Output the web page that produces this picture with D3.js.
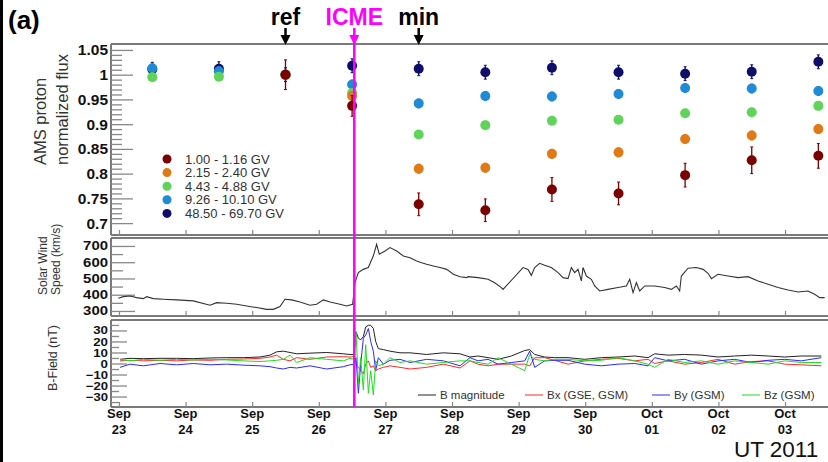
<!DOCTYPE html>
<html><head><meta charset="utf-8">
<script src="https://cdn.jsdelivr.net/npm/d3@7"></script>
<style>
body{margin:0;background:#fff;}
svg{display:block;}
text{font-family:"Liberation Sans",Arial,Helvetica,sans-serif;}
</style></head>
<body><svg id="chart" width="828" height="462"></svg>
<script>
// ---------------- DATA ----------------
const fluxDays = ["2011-09-23T12:00Z","2011-09-24T12:00Z","2011-09-25T12:00Z","2011-09-26T12:00Z","2011-09-27T12:00Z","2011-09-28T12:00Z","2011-09-29T12:00Z","2011-09-30T12:00Z","2011-10-01T12:00Z","2011-10-02T12:00Z","2011-10-03T12:00Z"];
const binLabels = ["1.00 - 1.16 GV","2.15 - 2.40 GV","4.43 - 4.88 GV","9.26 - 10.10 GV","48.50 - 69.70 GV"];
const flux_1_00  = [null, null, 1.000, 0.937, 0.738, 0.726, 0.768, 0.760, 0.797, 0.827, 0.836];
const flux_2_15  = [null, null, 1.000, 0.957, 0.810, 0.812, 0.840, 0.843, 0.870, 0.877, 0.890];
const flux_4_43  = [0.995, 0.996, 1.000, 0.963, 0.879, 0.898, 0.907, 0.909, 0.922, 0.924, 0.937];
const flux_9_26  = [1.013, 1.007, 1.000, 0.980, 0.942, 0.957, 0.956, 0.961, 0.973, 0.972, 0.967];
const flux_48_50 = [1.011, 1.012, 1.000, 1.018, 1.012, 1.005, 1.014, 1.005, 1.002, 1.006, 1.026];
const err_1_00  = [null, null, 0.030, 0.021, 0.023, 0.023, 0.024, 0.023, 0.024, 0.027, 0.025];
const err_2_15  = [null, null, 0.009, 0.009, 0.009, 0.009, 0.009, 0.009, 0.009, 0.009, 0.009];
const err_4_43  = [0.008, 0.008, 0.008, 0.008, 0.008, 0.008, 0.008, 0.008, 0.008, 0.008, 0.008];
const err_9_26  = [0.009, 0.009, 0.009, 0.009, 0.009, 0.009, 0.009, 0.009, 0.009, 0.009, 0.009];
const err_48_50 = [0.014, 0.014, 0.014, 0.014, 0.014, 0.014, 0.014, 0.014, 0.014, 0.014, 0.014];

const eventLabels = ["ref","ICME","min"];
const eventTimes  = ["2011-09-25T12:00Z","2011-09-26T12:47Z","2011-09-27T12:00Z"];

// solar wind speed: time in days since 2011-09-23 00:00 UT, speed in km/s
const swDays = [-0.010,0.065,0.165,0.265,0.365,0.415,0.515,0.666,0.866,1.116,1.366,1.466,1.617,1.767,1.917,2.067,2.217,2.317,2.417,2.492,2.592,2.718,2.868,2.968,3.068,3.168,3.318,3.418,3.508,3.543,3.593,3.668,3.743,3.818,3.868,3.908,3.994,4.069,4.169,4.269,4.369,4.469,4.544,4.619,4.719,4.820,4.920,5.020,5.120,5.220,5.240,
  5.390,5.541,5.641,5.741,5.766,6.066,6.141,6.191,6.241,6.316,6.391,6.491,6.592,6.667,6.742,6.792,6.842,6.892,6.942,6.967,7.017,7.092,7.142,7.217,7.342,7.492,7.618,7.668,7.718,7.768,7.818,7.893,8.043,8.193,8.293,8.368,8.418,8.443,8.544,8.669,8.769,8.844,8.894,8.994,9.144,9.294,9.444,9.595,9.745,9.895,10.045,10.195,10.345,10.445,10.520,10.595];
const swSpeed = [378,388,392,382,376,388,376,372,368,362,335,351,347,341,331,321,310,310,327,372,368,355,335,341,368,355,341,331,341,474,536,556,567,638,710,649,669,690,669,638,628,608,597,587,577,567,556,526,511,505,511,
  505,495,474,444,433,567,556,519,567,593,581,567,536,505,499,567,536,556,485,567,515,495,454,423,433,444,454,495,413,474,423,454,454,444,433,454,423,515,563,567,556,532,499,526,515,505,511,485,464,444,429,417,423,403,382,382];

// magnetic field (nT), time in days since 2011-09-23 00:00 UT
const bDays = [0.015,0.165,0.365,0.616,0.866,1.116,1.366,1.617,1.867,2.117,2.267,2.367,2.467,2.568,2.668,2.868,3.118,3.368,3.468,3.529,3.559,3.594,3.629,3.669,3.704,3.744,3.779,3.819,3.854,3.894,3.969,4.069,4.219,4.369,4.620,4.870,5.120,5.270,5.390,5.541,5.691,5.891,6.091,6.166,6.241,6.391,6.542,6.742,6.992,7.242,7.492,7.743,7.943,8.043,8.243,8.494,8.744,8.994,9.244,9.494,9.745,9.995,10.245,10.545];
const bMag = [3.8,4.7,4.4,4.7,4.7,4.4,5.0,5.3,5.3,5.9,7.6,10.6,11.2,10.0,8.8,9.4,10.0,8.8,8.2,8.2,28.8,22.9,21.5,24.4,33.2,34.7,34.7,31.8,20.0,13.5,12.6,11.2,9.7,9.7,8.2,9.7,8.8,5.9,6.8,5.3,3.8,6.8,11.8,12.6,8.2,5.9,5.3,5.3,3.8,5.3,5.9,6.8,5.3,8.8,7.6,8.2,7.6,5.9,6.8,7.6,6.8,5.9,6.8,6.8];
const bX = [2.4,2.9,2.4,2.9,2.4,3.2,2.9,3.8,4.1,4.7,5.9,7.6,3.8,2.4,5.3,3.8,5.9,6.2,5.9,6.2,-0.6,-3.5,-6.5,-9.4,-0.6,2.4,-3.5,-2.1,-6.5,-5.0,-3.5,-2.1,-3.5,-5.0,-3.5,-0.6,-4.1,2.4,-0.6,-2.1,-0.6,-0.6,-0.6,-2.1,5.3,5.3,2.9,-0.6,2.4,3.8,4.7,2.4,3.8,0,2.4,-0.6,0.9,3.8,-0.6,1.8,2.4,-0.6,-1.2,-2.1];
const bY = [-3.5,-0.6,-2.1,0,-1.2,0,-1.2,-0.6,-1.5,-2.1,-2.9,-4.1,-5,-3.5,-4.1,-2.1,-5,-2.9,-1.2,-0.6,5.3,-27,-0.6,22.9,25.9,31.8,20,11.2,-6.5,5.3,-0.6,2.9,3.8,0.9,3.8,2.4,-2.1,5.3,2.4,3.8,-0.6,0.9,2.4,11.2,-3.5,2.4,2.9,2.9,-0.6,-2.1,-0.6,0,-2.1,5.3,2.4,3.8,-0.6,2.4,3.8,0.9,2.9,3.8,2.4,5.3];
const bZ = [3.8,2.4,3.8,2.9,3.8,3.2,3.8,3.2,2.4,1.8,2.4,2.9,3.8,7.6,0.9,5.3,3.8,2.4,4.7,3.8,28.8,-18.2,5.3,-24.1,17.1,-27,-6.5,-28.5,2.4,-2.1,-0.6,5.3,0.9,2.4,-0.6,0.9,2.4,2.4,0.9,-0.6,5.3,-0.6,-6.5,8.2,3.8,2.4,3.8,3.8,2.4,2.9,5.3,2.4,-0.6,-3.5,3.8,0.9,2.4,-0.6,2.4,0.9,-0.6,2.4,0.9,0.9];
const bLabels = ["B magnitude","Bx (GSE, GSM)","By (GSM)","Bz (GSM)"];

const fluxTicks = [1.05,1,0.95,0.9,0.85,0.8,0.75,0.7];
const swTicks = [700,600,500,400,300];
const bTicks = [30,20,10,0,-10,-20,-30];

// ---------------- STYLE ----------------
const binColors = ["#7a0000","#e07a16","#5fd35a","#1f8ad6","#0e0e6a"];
const bColors = ["#222","#ff2a2a","#2a2aff","#20dd20"];
const frameColor = "#7a7a7a";

// ---------------- SCALES ----------------
const T0 = Date.UTC(2011,8,23);
const toDate = d => new Date(T0 + d*864e5);
const L = 111, R = 827;
const x = d3.scaleUtc().domain([toDate(-0.12), toDate(10.63)]).range([L, R]);
const P1 = {top:44, bottom:235}, P2 = {top:238, bottom:316}, P3 = {top:320, bottom:407};
const y1 = d3.scaleLinear().domain([0.676,1.062]).range([P1.bottom,P1.top]);
const y2 = d3.scaleLinear().domain([269,749]).range([P2.bottom,P2.top]);
const y3 = d3.scaleLinear().domain([-39.5,39.5]).range([P3.bottom,P3.top]);

const svg = d3.select("#chart");
svg.append("rect").attr("x",0).attr("y",0).attr("width",828).attr("height",462).attr("fill","#fff");
svg.append("rect").attr("x",0).attr("y",0).attr("width",3).attr("height",462).attr("fill","#000");

const days = x.ticks(d3.utcDay);

function frame(P){
  const g = svg.append("g");
  g.append("line").attr("x1",L).attr("x2",828).attr("y1",P.top).attr("y2",P.top).attr("stroke",frameColor).attr("stroke-width",2);
  g.append("line").attr("x1",L).attr("x2",828).attr("y1",P.bottom).attr("y2",P.bottom).attr("stroke",frameColor).attr("stroke-width",2);
  g.append("line").attr("x1",L).attr("x2",L).attr("y1",P.top).attr("y2",P.bottom).attr("stroke",frameColor).attr("stroke-width",2);
}
function yAxis(scale, major, minor, majLen, minLen, fontSize, fmt, stretch){
  const g = svg.append("g").attr("transform",`translate(${L},0)`);
  g.call(d3.axisLeft(scale).tickValues(minor).tickSize(-minLen).tickFormat(""));
  const g2 = svg.append("g").attr("transform",`translate(${L},0)`);
  g2.call(d3.axisLeft(scale).tickValues(major).tickSize(-majLen).tickPadding(3).tickFormat(fmt));
  [g,g2].forEach(a=>{a.select(".domain").remove(); a.selectAll(".tick line").attr("stroke","#888").attr("stroke-width",1.3);});
  g2.selectAll(".tick text").attr("font-size",fontSize).attr("font-weight","bold").attr("fill","#111")
    .attr("font-family","'Liberation Sans',Arial,sans-serif");
  if (stretch) g2.selectAll(".tick text").each(function(){ const n=this.textContent.length; d3.select(this).attr("textLength", n*stretch).attr("lengthAdjust","spacingAndGlyphs");});
}
function xTicks(P){
  const g = svg.append("g").attr("transform",`translate(0,${P.bottom})`);
  g.call(d3.axisBottom(x).tickValues(days).tickSize(-5).tickFormat(""));
  g.select(".domain").remove();
  g.selectAll(".tick line").attr("stroke","#888").attr("stroke-width",1.2);
}

// ---------- Panel 1 ----------
frame(P1);
const minorFlux = d3.range(70,106).map(v=>v/100).filter(v=>!fluxTicks.some(t=>Math.abs(t-v)<1e-6));
yAxis(y1, fluxTicks, minorFlux, 22, 11, "15.5px", d=>d3.format("")(+d.toFixed(2)), null);
xTicks(P1);

const series = [
  {vals:flux_48_50, errs:err_48_50, c:binColors[4]},
  {vals:flux_9_26,  errs:err_9_26,  c:binColors[3]},
  {vals:flux_4_43,  errs:err_4_43,  c:binColors[2]},
  {vals:flux_2_15,  errs:err_2_15,  c:binColors[1]},
  {vals:flux_1_00,  errs:err_1_00,  c:binColors[0]},
];
series.forEach(s=>{
  const pts = fluxDays.map((d,i)=>({t:new Date(d), v:s.vals[i], e:s.errs[i]})).filter(p=>p.v!=null);
  const g = svg.append("g");
  g.selectAll("line.e").data(pts).join("line").attr("x1",p=>x(p.t)).attr("x2",p=>x(p.t))
    .attr("y1",p=>y1(p.v+p.e)).attr("y2",p=>y1(p.v-p.e)).attr("stroke",s.c).attr("stroke-width",1.3);
  g.selectAll("line.c1").data(pts).join("line").attr("x1",p=>x(p.t)-1.5).attr("x2",p=>x(p.t)+1.5)
    .attr("y1",p=>y1(p.v+p.e)).attr("y2",p=>y1(p.v+p.e)).attr("stroke",s.c).attr("stroke-width",1);
  g.selectAll("line.c2").data(pts).join("line").attr("x1",p=>x(p.t)-1.5).attr("x2",p=>x(p.t)+1.5)
    .attr("y1",p=>y1(p.v-p.e)).attr("y2",p=>y1(p.v-p.e)).attr("stroke",s.c).attr("stroke-width",1);
  g.selectAll("circle").data(pts).join("circle").attr("cx",p=>x(p.t)).attr("cy",p=>y1(p.v)).attr("r",5).attr("fill",s.c);
});

// legend panel 1
const lg = svg.append("g");
binLabels.forEach((lab,i)=>{
  const yy = 159 + i*13.6;
  lg.append("circle").attr("cx",167).attr("cy",yy).attr("r",4.5).attr("fill",binColors[i]);
  lg.append("text").attr("x",185).attr("y",yy+4.5).attr("font-size","13px").attr("fill","#333").text(lab);
});
// y title panel 1
const t1 = svg.append("g").attr("transform","translate(46,165) rotate(-90)");
t1.append("text").attr("x",0).attr("y",0).attr("font-size","16.5px").attr("fill","#333").text("AMS proton");
t1.append("text").attr("x",0).attr("y",22).attr("font-size","16.5px").attr("fill","#333").text("normalized flux");

// ---------- Panel 2 ----------
frame(P2);
yAxis(y2, swTicks, [650,550,450,350], 24, 12, "12px", d=>d, 8.3);
xTicks(P2);
const swLine = d3.line().x((d,i)=>x(toDate(swDays[i]))).y(d=>y2(d));
svg.append("path").attr("d",swLine(swSpeed)).attr("fill","none").attr("stroke","#333").attr("stroke-width",1.1);
const t2 = svg.append("g").attr("transform","translate(47,295) rotate(-90)");
t2.append("text").attr("x",0).attr("y",0).attr("font-size","12px").attr("fill","#333").text("Solar Wind");
t2.append("text").attr("x",0).attr("y",13).attr("font-size","12px").attr("fill","#333").text("Speed (km/s)");

// ---------- Panel 3 ----------
frame(P3);
yAxis(y3, bTicks, [35,25,15,5,-5,-15,-25,-35], 16, 8, "11px", d=>d<0?"\u2212"+Math.abs(d):d, 7.4);
xTicks(P3);
const bSeries = [bMag,bX,bY,bZ];
bSeries.forEach((arr,k)=>{
  const ln = d3.line().x((d,i)=>x(toDate(bDays[i]))).y(d=>y3(d));
  svg.append("path").attr("d",ln(arr)).attr("fill","none").attr("stroke",bColors[k]).attr("stroke-width",1);
});
const t3 = svg.append("g").attr("transform","translate(57,391) rotate(-90)");
t3.append("text").attr("x",0).attr("y",0).attr("font-size","12.5px").attr("fill","#333").text("B-Field (nT)");

// legend panel 3
const bLegX = [418,525,652,742];
bLabels.forEach((lab,k)=>{
  svg.append("line").attr("x1",bLegX[k]).attr("x2",bLegX[k]+18).attr("y1",395).attr("y2",395).attr("stroke",bColors[k]).attr("stroke-width",1);
  svg.append("text").attr("x",bLegX[k]+22).attr("y",399).attr("font-size","11.5px").attr("fill","#333").text(lab);
});

// date labels
const fmtM = d3.utcFormat("%b"), fmtD = d3.utcFormat("%d");
days.forEach(d=>{
  const m = fmtM(d);
  svg.append("text").attr("x",x(d)).attr("y",418).attr("text-anchor","middle").attr("font-size","13px").attr("font-weight","bold").attr("fill","#111").text(m);
  svg.append("text").attr("x",x(d)).attr("y",434).attr("text-anchor","middle").attr("font-size","13px").attr("font-weight","bold").attr("fill","#111").text(fmtD(d));
});
svg.append("text").attr("x",734).attr("y",457).attr("font-size","22.5px").attr("fill","#111").text("UT 2011");

// events
eventLabels.forEach((lab,i)=>{
  const ex = x(new Date(eventTimes[i]));
  const col = lab==="ICME" ? "#ff00ff" : "#000";
  svg.append("text").attr("x",ex).attr("y",25).attr("text-anchor","middle").attr("font-size","23px").attr("font-weight","bold").attr("fill",col).text(lab);
  svg.append("line").attr("x1",ex).attr("x2",ex).attr("y1",28).attr("y2",38).attr("stroke",col).attr("stroke-width",2.5);
  svg.append("path").attr("d",`M${ex-5},35 L${ex+5},35 L${ex},45 Z`).attr("fill",col);
  if (lab==="ICME") svg.append("line").attr("x1",ex).attr("x2",ex).attr("y1",38).attr("y2",P3.bottom).attr("stroke",col).attr("stroke-width",2.5);
});
svg.append("text").attr("x",8).attr("y",29).attr("font-size","26px").attr("font-weight","bold").attr("fill","#000").text("(a)");
</script></body></html>
